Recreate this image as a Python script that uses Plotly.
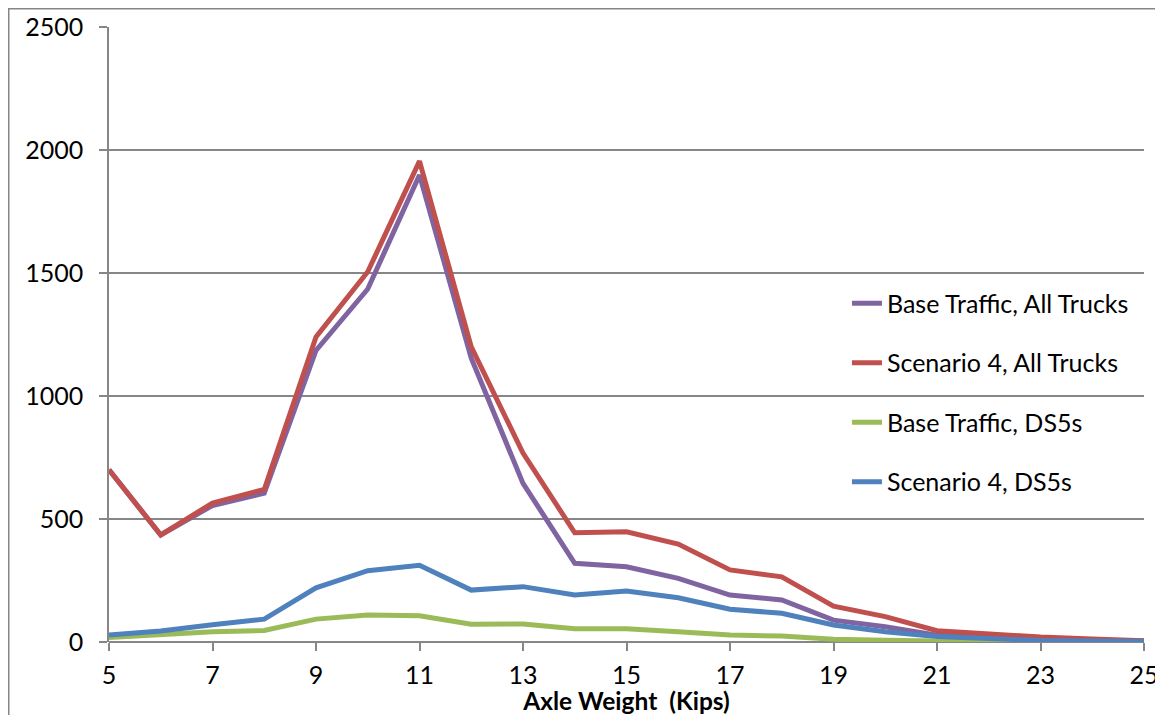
import plotly.graph_objects as go

axle_weight = list(range(5, 26))
base_all = [700, 435, 555, 605, 1185, 1435, 1898, 1154, 645, 320, 306, 259, 191, 171, 89, 62, 28, 20, 12, 8, 4]
scen4_all = [700, 435, 565, 620, 1240, 1505, 1955, 1200, 768, 444, 448, 398, 293, 265, 146, 103, 46, 32, 20, 12, 5]
base_ds5 = [18, 30, 42, 47, 93, 110, 107, 72, 73, 54, 54, 42, 28, 24, 11, 7, 2, 1, 1, 0, 0]
scen4_ds5 = [28, 45, 70, 93, 220, 290, 312, 211, 225, 191, 207, 180, 133, 117, 69, 42, 22, 12, 6, 4, 3]

series_names = ["Base Traffic, All Trucks", "Scenario 4, All Trucks", "Base Traffic, DS5s", "Scenario 4, DS5s"]
series_values = [base_all, scen4_all, base_ds5, scen4_ds5]
colors = ["#8064A2", "#C0504D", "#9BBB59", "#4F81BD"]

x_ticks = list(range(5, 26, 2))
y_ticks = [0, 500, 1000, 1500, 2000, 2500]

fig = go.Figure()
for i, (name, vals, c) in enumerate(zip(series_names, series_values, colors)):
    fig.add_trace(go.Scatter(x=axle_weight, y=vals, mode="lines", name=name,
                             legendgroup=f"g{i}",
                             line=dict(color=c, width=5)))

W, H = 1155, 707
L, R, T, B = 101, 19, 19, 73
pw, ph = W - L - R, H - T - B

font_family = "Lato, 'Open Sans', sans-serif"
fig.update_layout(
    width=W, height=H,
    margin=dict(l=L, r=R, t=T, b=B, autoexpand=False),
    paper_bgcolor="white", plot_bgcolor="white",
    font=dict(family=font_family, size=25, color="black"),
    legend=dict(x=0.713, y=0.588, xanchor="left", yanchor="top",
                font=dict(size=25), tracegroupgap=24, bgcolor="rgba(0,0,0,0)"),
    xaxis=dict(range=[5, 25], tickvals=x_ticks, ticks="outside", ticklen=8,
               tickcolor="#868686", tickwidth=1.5, showline=False, showgrid=False,
               zeroline=False, automargin=False, ticklabeloverflow="allow",
               title=dict(text="<b>Axle Weight  (Kips)</b>", font=dict(size=24.5), standoff=2),
               tickfont=dict(size=25), ticklabelstandoff=3),
    yaxis=dict(range=[0, 2500], tickvals=y_ticks, ticks="outside", ticklen=8,
               tickcolor="#868686", tickwidth=1.5, showline=True, linecolor="#868686",
               linewidth=1.5, automargin=False, ticklabeloverflow="allow",
               gridcolor="#868686", gridwidth=1.5, zeroline=True, zerolinecolor="#868686",
               zerolinewidth=1.5, tickfont=dict(size=25), ticklabelstandoff=11),
    showlegend=True,
)

fig.add_shape(type="rect", xref="paper", yref="paper",
              x0=(0.75 - L) / pw, x1=1.2, y0=-0.3, y1=(ph + T - 0.75) / ph,
              line=dict(color="#868686", width=1.5), fillcolor="rgba(0,0,0,0)", layer="below")

fig.write_html("out.html")
